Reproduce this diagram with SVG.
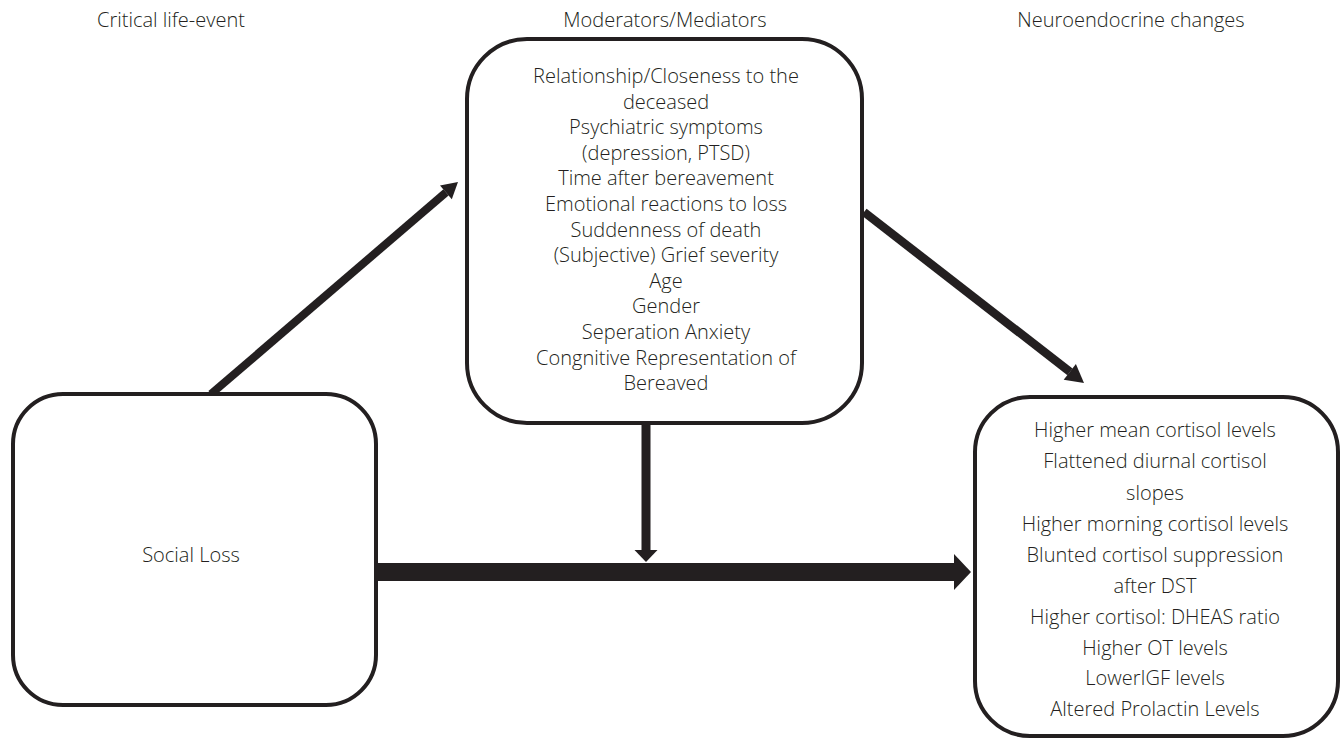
<svg xmlns="http://www.w3.org/2000/svg" width="1341" height="740" viewBox="0 0 1341 740">
  <style>
    .box { fill: #ffffff; stroke: #231f20; stroke-width: 4; }
    .txt { font-family: "Open Sans", "Liberation Sans", sans-serif; font-size: 20px; font-weight: 300; fill: #231f20; text-anchor: middle; }
    .shaft { stroke: #231f20; fill: none; }
    .head { fill: #231f20; stroke: none; }
  </style>
  <rect width="1341" height="740" fill="#ffffff"/>

  <g id="headers">
    <text class="txt" x="171" y="27">Critical life-event</text>
    <text class="txt" x="665" y="27">Moderators/Mediators</text>
    <text class="txt" x="1131" y="27">Neuroendocrine changes</text>
  </g>

  <g id="connectors">
    <line class="shaft" x1="211" y1="394" x2="446" y2="192.4" stroke-width="8"/>
    <polygon class="head" points="458,182 451.8,199.2 440,185.6"/>
    <line class="shaft" x1="864" y1="212" x2="1070" y2="371.9" stroke-width="8.5"/>
    <polygon class="head" points="1084,383 1063.7,379.8 1075.9,364"/>
    <line class="shaft" x1="646" y1="423" x2="646" y2="551" stroke-width="9"/>
    <polygon class="head" points="634.5,550 657.5,550 646,562"/>
    <rect class="head" x="378" y="563" width="577" height="18"/>
    <polygon class="head" points="954,554 971,572 954,590"/>
  </g>

  <g id="node-social-loss">
    <rect class="box" x="13" y="394" width="363" height="311" rx="50" ry="50"/>
    <text class="txt" x="191" y="562">Social Loss</text>
  </g>

  <g id="node-moderators">
    <rect class="box" x="467" y="39" width="395" height="384" rx="60" ry="60"/>
    <text class="txt" x="666" y="83">Relationship/Closeness to the</text>
    <text class="txt" x="666" y="108.5">deceased</text>
    <text class="txt" x="666" y="134">Psychiatric symptoms</text>
    <text class="txt" x="666" y="159.5">(depression, PTSD)</text>
    <text class="txt" x="666" y="185">Time after bereavement</text>
    <text class="txt" x="666" y="210.7">Emotional reactions to loss</text>
    <text class="txt" x="666" y="236.5">Suddenness of death</text>
    <text class="txt" x="666" y="262">(Subjective) Grief severity</text>
    <text class="txt" x="666" y="287.7">Age</text>
    <text class="txt" x="666" y="313.3">Gender</text>
    <text class="txt" x="666" y="339">Seperation Anxiety</text>
    <text class="txt" x="666" y="365">Congnitive Representation of</text>
    <text class="txt" x="666" y="390">Bereaved</text>
  </g>

  <g id="node-neuroendocrine">
    <rect class="box" x="975" y="397" width="363" height="339" rx="55" ry="55"/>
    <text class="txt" x="1155" y="437">Higher mean cortisol levels</text>
    <text class="txt" x="1155" y="468">Flattened diurnal cortisol</text>
    <text class="txt" x="1155" y="499.5">slopes</text>
    <text class="txt" x="1155" y="530.5">Higher morning cortisol levels</text>
    <text class="txt" x="1155" y="561.5">Blunted cortisol suppression</text>
    <text class="txt" x="1155" y="592.5">after DST</text>
    <text class="txt" x="1155" y="623.5">Higher cortisol: DHEAS ratio</text>
    <text class="txt" x="1155" y="654.5">Higher OT levels</text>
    <text class="txt" x="1155" y="685">LowerIGF levels</text>
    <text class="txt" x="1155" y="716">Altered Prolactin Levels</text>
  </g>
</svg>
